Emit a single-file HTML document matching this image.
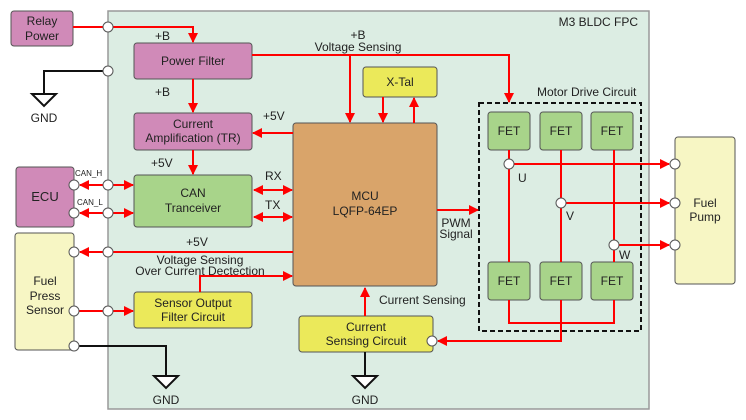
<!DOCTYPE html>
<html><head><style>body{margin:0;background:#fff}svg{display:block}text{font-family:"Liberation Sans",sans-serif;font-size:12px;fill:#222}</style></head><body>
<svg width="746" height="420" viewBox="0 0 746 420">
<defs><marker id="a" markerWidth="10" markerHeight="10" refX="9" refY="5" orient="auto-start-reverse" markerUnits="userSpaceOnUse"><path d="M0,0 L10,5 L0,10 z" fill="#f00"/></marker></defs>
<rect x="108" y="11" width="541" height="398" fill="#dcede3" stroke="#999" stroke-width="1.5"/>
<text x="638" y="26" text-anchor="end">M3 BLDC FPC</text>
<g stroke="#555" stroke-width="1">
<rect x="11" y="11" width="62" height="35" rx="3" fill="#d08ab8"/>
<rect x="134" y="43" width="118" height="36" rx="3" fill="#d08ab8"/>
<rect x="134" y="113" width="118" height="37" rx="3" fill="#d08ab8"/>
<rect x="134" y="175" width="118" height="52" rx="3" fill="#a8d48a"/>
<rect x="16" y="167" width="58" height="60" rx="3" fill="#d08ab8"/>
<rect x="15" y="233" width="59" height="117" rx="3" fill="#f7f6c4"/>
<rect x="134" y="292" width="118" height="36" rx="3" fill="#ebe95a"/>
<rect x="293" y="123" width="144" height="163" rx="3" fill="#d9a46a"/>
<rect x="363" y="67" width="74" height="30" rx="3" fill="#ebe95a"/>
<rect x="299" y="316" width="134" height="36" rx="3" fill="#ebe95a"/>
<rect x="675" y="137" width="60" height="147" rx="3" fill="#f7f6c4"/>
<rect x="488" y="112" width="42" height="38" rx="3" fill="#a8d48a"/>
<rect x="540" y="112" width="42" height="38" rx="3" fill="#a8d48a"/>
<rect x="591" y="112" width="42" height="38" rx="3" fill="#a8d48a"/>
<rect x="488" y="262" width="42" height="38" rx="3" fill="#a8d48a"/>
<rect x="540" y="262" width="42" height="38" rx="3" fill="#a8d48a"/>
<rect x="591" y="262" width="42" height="38" rx="3" fill="#a8d48a"/>
</g>
<rect x="479" y="103" width="162" height="228" fill="none" stroke="#111" stroke-width="2" stroke-dasharray="5,3"/>
<g stroke="#f00" stroke-width="2" fill="none">
<path d="M73,27 H193 V42" marker-end="url(#a)"/>
<path d="M252,55 H509 V102" marker-end="url(#a)"/>
<path d="M350,55 V122" marker-end="url(#a)"/>
<path d="M193,79 V112" marker-end="url(#a)"/>
<path d="M193,150 V174" marker-end="url(#a)"/>
<path d="M293,133 H253" marker-end="url(#a)"/>
<path d="M254,190 H292" marker-start="url(#a)" marker-end="url(#a)"/>
<path d="M254,217 H292" marker-start="url(#a)" marker-end="url(#a)"/>
<path d="M80,185 H133" marker-start="url(#a)" marker-end="url(#a)"/>
<path d="M80,213 H133" marker-start="url(#a)" marker-end="url(#a)"/>
<path d="M293,252 H80" marker-end="url(#a)"/>
<path d="M74,311 H133" marker-end="url(#a)"/>
<path d="M200,292 V276 H292" marker-end="url(#a)"/>
<path d="M365,316 V288" marker-end="url(#a)"/>
<path d="M383,97 V122" marker-end="url(#a)"/>
<path d="M414,123 V98" marker-end="url(#a)"/>
<path d="M437,210 H478" marker-end="url(#a)"/>
<path d="M509,150 V262 M561,150 V262 M614,150 V262"/>
<path d="M509,300 V323 H614 V300"/>
<path d="M561,300 V341 H438" marker-end="url(#a)"/>
<path d="M509,164 H669" marker-end="url(#a)"/>
<path d="M561,203 H669" marker-end="url(#a)"/>
<path d="M614,245 H669" marker-end="url(#a)"/>
</g>
<g stroke="#111" stroke-width="2" fill="none">
<path d="M108,71 H44 V94"/><path d="M32,94 H56 L44,106 Z" fill="#fff"/>
<path d="M74,346 H166 V376"/><path d="M154,376 H178 L166,388 Z" fill="#fff"/>
<path d="M365,352 V376"/><path d="M353,376 H377 L365,388 Z" fill="#fff"/>
</g>
<g fill="#fff" stroke="#555" stroke-width="1">
<circle cx="108" cy="27" r="5"/><circle cx="108" cy="71" r="5"/>
<circle cx="74" cy="185" r="5"/><circle cx="108" cy="185" r="5"/>
<circle cx="74" cy="213" r="5"/><circle cx="108" cy="213" r="5"/>
<circle cx="74" cy="252" r="5"/><circle cx="108" cy="252" r="5"/>
<circle cx="74" cy="311" r="5"/><circle cx="108" cy="311" r="5"/>
<circle cx="74" cy="346" r="5"/>
<circle cx="509" cy="164" r="5"/><circle cx="561" cy="203" r="5"/><circle cx="614" cy="245" r="5"/>
<circle cx="675" cy="164" r="5"/><circle cx="675" cy="203" r="5"/><circle cx="675" cy="245" r="5"/>
<circle cx="432" cy="341" r="5"/>
</g>
<g text-anchor="middle">
<text x="42" y="25">Relay</text><text x="42" y="40">Power</text>
<text x="44" y="122">GND</text>
<text x="193" y="65">Power Filter</text>
<text x="193" y="128">Current</text><text x="193" y="142">Amplification (TR)</text>
<text x="193" y="197">CAN</text><text x="193" y="212">Tranceiver</text>
<text x="45" y="201" style="font-size:13px">ECU</text>
<text x="45" y="285">Fuel</text><text x="45" y="300">Press</text><text x="45" y="314">Sensor</text>
<text x="193" y="307">Sensor Output</text><text x="193" y="321">Filter Circuit</text>
<text x="365" y="200">MCU</text><text x="365" y="215">LQFP-64EP</text>
<text x="400" y="86">X-Tal</text>
<text x="366" y="331">Current</text><text x="366" y="345">Sensing Circuit</text>
<text x="705" y="207">Fuel</text><text x="705" y="221">Pump</text>
<text x="509" y="135">FET</text><text x="561" y="135">FET</text><text x="612" y="135">FET</text>
<text x="509" y="285">FET</text><text x="561" y="285">FET</text><text x="612" y="285">FET</text>
<text x="166" y="404">GND</text><text x="365" y="404">GND</text>
<text x="358" y="39">+B</text><text x="358" y="51">Voltage Sensing</text>
<text x="197" y="246">+5V</text>
<text x="200" y="264">Voltage Sensing</text><text x="200" y="275">Over Current Dectection</text>
<text x="456" y="227">PWM</text><text x="456" y="238">Signal</text>
</g>
<text x="155" y="40">+B</text><text x="155" y="96">+B</text>
<text x="263" y="120">+5V</text><text x="151" y="167">+5V</text>
<text x="265" y="180">RX</text><text x="265" y="209">TX</text>
<text x="75" y="176" style="font-size:8px">CAN_H</text><text x="77" y="205" style="font-size:8px">CAN_L</text>
<text x="537" y="96">Motor Drive Circuit</text>
<text x="379" y="304">Current Sensing</text>
<text x="518" y="182">U</text><text x="566" y="220">V</text><text x="619" y="259">W</text>
</svg>
</body></html>
